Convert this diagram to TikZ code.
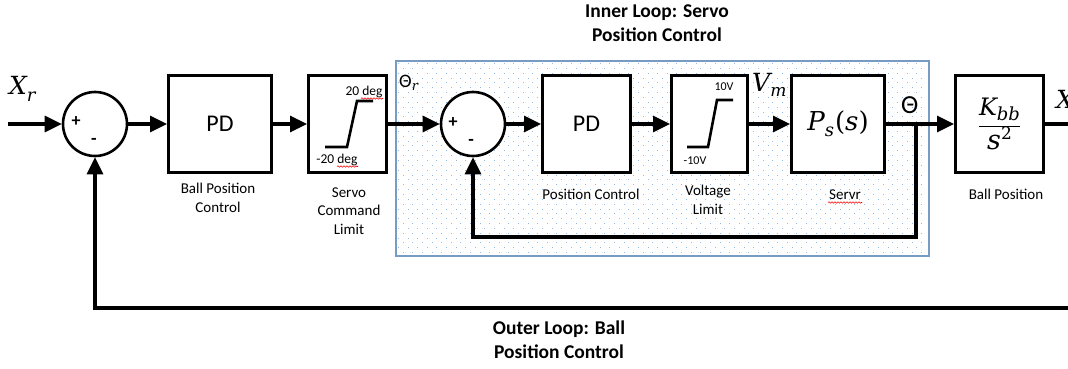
\RequirePackage{fix-cm}
\documentclass[tikz,border=0pt]{standalone}
\usepackage{fontspec}
\setmainfont{Carlito}
\newfontfamily\dvs{DejaVu Serif}
\usetikzlibrary{arrows.meta,decorations.pathmorphing}

% italic serif letters for the signal and transfer-function symbols
\newcommand\vsym[2]{\mbox{\fontsize{#1}{#1}\selectfont\dvs\itshape #2}}
\newcommand\vup[2]{\mbox{\fontsize{#1}{#1}\selectfont\dvs #2}}

\definecolor{dotblue}{RGB}{150,188,230}
\definecolor{frameblue}{RGB}{120,155,195}

\tikzset{
  block/.style={draw=black, line width=3pt, fill=white, minimum height=97pt, inner sep=0pt},
  sumnode/.style={draw=black, circle, line width=2.6pt, fill=white, minimum size=64pt, inner sep=0pt},
  wire/.style={line width=3.2pt},
  arrowwire/.style={line width=3.2pt, -{Triangle[length=17pt,width=16pt]}},
  satline/.style={line width=2.6pt},
  caption/.style={font=\fontsize{15}{18.5}\selectfont, align=center, inner sep=0pt},
  title/.style={font=\bfseries\fontsize{19.5}{24}\selectfont, align=center, inner sep=0pt},
  small/.style={font=\fontsize{13.5}{16}\selectfont, inner sep=0pt},
  tiny/.style={font=\fontsize{12}{14}\selectfont, inner sep=0pt},
  sign/.style={font=\bfseries\fontsize{18}{20}\selectfont, inner sep=0pt},
  spell/.style={red, line width=0.6pt, decorate, decoration={snake, amplitude=0.7pt, segment length=3pt}},
  symlbl/.style={inner sep=0pt, anchor=base west},
}

\begin{document}
\begin{tikzpicture}[x=1pt, y=-1pt]
\useasboundingbox (0,0) rectangle (1068,369);
\clip (0,0) rectangle (1068,369);

% inner loop frame with dotted fill
\fill[white] (396,61) rectangle (929,256);
\foreach \j in {0,...,39} {
  \foreach \i in {0,...,54} {
    \fill[dotblue] ({398+\i*9.6+mod(\j,2)*4.8}, {63+\j*4.85}) rectangle +(1,1);
  }
}
\draw[frameblue, line width=1.5pt] (396,61) rectangle (929,256);

% titles
\node[title] (tin) at (657,23) {Inner Loop: Servo\\Position Control};
\node[title] (tout) at (559,340) {Outer Loop: Ball\\Position Control};

% blocks
\node[sumnode] (s1) at (95,124) {};
\node[block, minimum width=103pt] (pd1) at (220,124) {\fontsize{24}{28}\selectfont PD};
\node[block, minimum width=78pt] (sat1) at (347.5,124) {};
\node[sumnode] (s2) at (473,124) {};
\node[block, minimum width=88pt] (pd2) at (586.5,124) {\fontsize{24}{28}\selectfont PD};
\node[block, minimum width=76pt] (vl) at (709.5,124) {};
\node[block, minimum width=93pt] (ps) at (838,124) {%
  \vsym{26}{P}\raisebox{-6pt}{\vsym{18}{s}}\kern1pt\vup{26}{(}\vsym{26}{s}\vup{26}{)}};
\node[block, minimum width=88pt] (kbb) at (999.5,124) {%
  \fontsize{25}{28}\selectfont
  $\displaystyle\frac{\vsym{24}{K}\raisebox{-5pt}{\vsym{18}{bb}}}%
                     {\vsym{27}{s}\raisebox{10pt}{\vup{17}{2}}}$};

% summing junction signs
\node[sign] (p1) at (76,122) {+};
\node[sign] (m1) at (94,141) {-};
\node[sign] (p2) at (453,123) {+};
\node[sign] (m2) at (471,142) {-};

% saturation characteristics
\draw[satline] (325,147) -- (347,147) -- (357,101) -- (373,101);
\node[small] (hi1) at (364,92) {20 deg};
\node[small] (lo1) at (337,160) {-20 deg};
\draw[spell] (361,98.5) -- (383,98.5);
\draw[spell] (337,166.5) -- (358,166.5);

\draw[satline] (687,147) -- (708,147) -- (717,100) -- (733,100);
\node[tiny] (hi2) at (724,87) {10V};
\node[tiny] (lo2) at (695,161) {-10V};

% signal labels
\node[symlbl] (xr) at (9,95) {\vsym{25}{X}\raisebox{-6pt}{\vsym{18}{r}}};
\node[symlbl] (thr) at (399,87) {{\fontsize{19}{22}\selectfont Θ}\raisebox{-4pt}{\vsym{13}{r}}};
\node[symlbl] (vm) at (752,92) {\vsym{25}{V}\raisebox{-5pt}{\vsym{17}{m}}};
\node[symlbl] (th) at (901,113) {\fontsize{26}{30}\selectfont Θ};
\node[symlbl] (xo) at (1056,108) {\vsym{25}{X}};

% block captions
\node[caption] (c1) at (218,198) {Ball Position\\Control};
\node[caption] (c2) at (349,211) {Servo\\Command\\Limit};
\node[caption] (c3) at (591,194) {Position Control};
\node[caption] (c4) at (708,200) {Voltage\\Limit};
\node[caption] (c5) at (845,195) {Servr};
\draw[spell] (828,202.5) -- (862,202.5);
\node[caption] (c6) at (1006,194) {Ball Position};

% forward path
\coordinate (in) at (8,124);
\coordinate (tap) at (916,124);
\coordinate (out) at (1072,124);
\draw[arrowwire] (in) -- (s1);
\draw[arrowwire] (s1) -- (pd1);
\draw[arrowwire] (pd1) -- (sat1);
\draw[arrowwire] (sat1) -- (s2);
\draw[arrowwire] (s2) -- (pd2);
\draw[arrowwire] (pd2) -- (vl);
\draw[arrowwire] (vl) -- (ps);
\draw[arrowwire] (ps) -- (kbb);
\draw[wire] (kbb) -- (out);

% inner feedback
\coordinate (fbi) at (916,237);
\draw[arrowwire] (tap) -- (fbi) -| (s2.south);

% outer feedback
\coordinate (fbo) at (1072,308);
\draw[arrowwire] (fbo) -| (s1.south);
\end{tikzpicture}
\end{document}
